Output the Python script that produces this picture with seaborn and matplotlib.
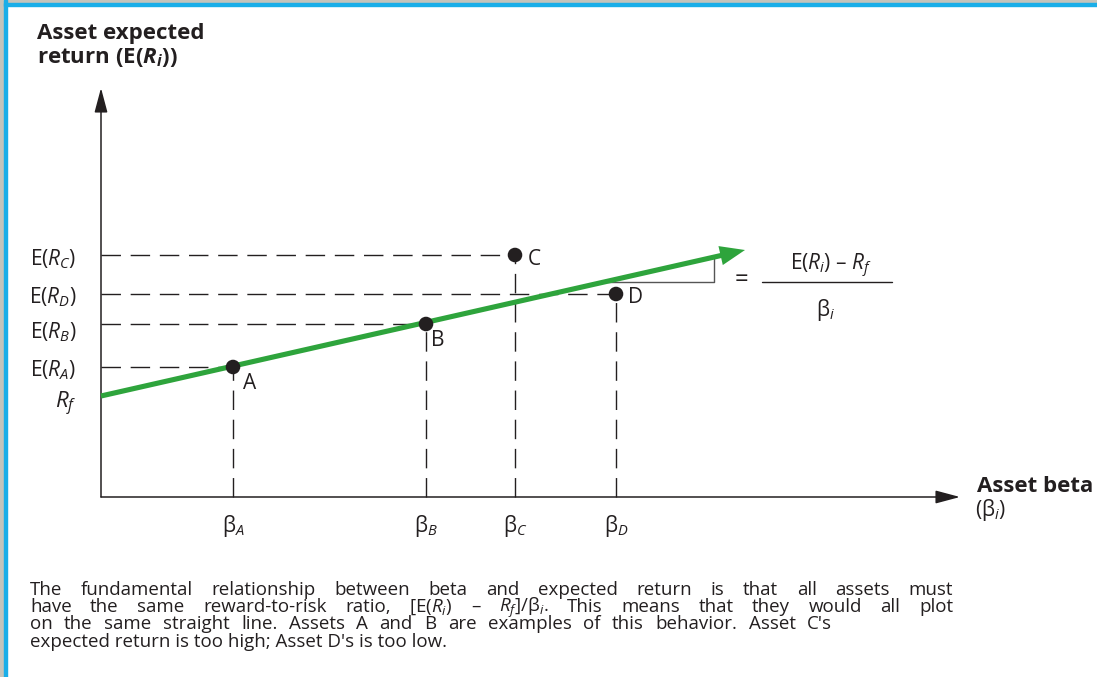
import matplotlib
matplotlib.use("Agg")
import matplotlib.pyplot as plt
import seaborn as sns
import numpy as np
import pandas as pd
from matplotlib.patches import Rectangle

# ---- data ----
assets = ["A", "B", "C", "D"]
betas = [0.66, 1.625, 2.07, 2.575]
exp_returns = [6.5, 8.65, 12.1, 10.15]
rf = 5.05
sml_beta = [0.0, 3.12]
sml_return = [5.05, 12.12]
sml_tip = (3.22, 12.35)
beta_labels = [r"$\mathrm{β}_{A}$", r"$\mathrm{β}_{B}$", r"$\mathrm{β}_{C}$", r"$\mathrm{β}_{D}$"]
ret_labels = ["E($R_A$)", "E($R_B$)", "E($R_C$)", "E($R_D$)"]
caption = [
    "The fundamental relationship between beta and expected return is that all assets must",
    "have the same reward-to-risk ratio, [E($R_i$) \u2013 $R_f$]/$\\mathrm{β}_i$. This means that they would all plot",
    "on the same straight line. Assets A and B are examples of this behavior. Asset C's",
    "expected return is too high; Asset D's is too low.",
]
caption_width_px = [923, 923, 802, None]

sns.set_theme(style="white")
FONT = "Open Sans"
plt.rcParams["font.family"] = [FONT, "DejaVu Sans"]
plt.rcParams["mathtext.fontset"] = "custom"
plt.rcParams["mathtext.rm"] = FONT
plt.rcParams["mathtext.it"] = FONT + ":italic"
plt.rcParams["mathtext.bf"] = FONT + ":bold"
plt.rcParams["mathtext.bfit"] = FONT + ":italic:bold"

INK = "#231f20"
GREEN = "#2ea43c"
W, H = 1097, 677

fig = plt.figure(figsize=(10.97, 6.77), dpi=100)
fig.patch.set_facecolor("white")
# frame
fig.patches.append(Rectangle((0, 0), 4/W, 1, transform=fig.transFigure, color="#c4c4bb", zorder=0))
fig.patches.append(Rectangle((4/W, 0), 3/W, 1, transform=fig.transFigure, color="#1aaee8", zorder=1))
fig.patches.append(Rectangle((0, 674/H), 1, 3/H, transform=fig.transFigure, color="#c4c4bb", zorder=0))
fig.patches.append(Rectangle((4/W, 671/H), 1, 3/H, transform=fig.transFigure, color="#1aaee8", zorder=1))

ax = fig.add_axes([0, 0, 1, 1])
ax.set_xlim(-0.505, 4.98)
ax.set_ylim(-9.0, 24.85)
ax.axis("off")

def bx(px):
    return (px - 101) / 200

def ry(py):
    return (497 - py) / 20

# axes arrows
arr = dict(arrowstyle="-|>,head_length=0.75,head_width=0.2", color=INK, lw=1.1,
           mutation_scale=20, shrinkA=0, shrinkB=0)
ax.annotate("", xy=(0, ry(88)), xytext=(0, 0), arrowprops=arr)
ax.annotate("", xy=(bx(960), 0), xytext=(0, 0), arrowprops=arr)

# dashed guides
dash = (0, (14, 7))
for b, r in zip(betas, exp_returns):
    ax.hlines(r, 0, b, colors=INK, linestyles=[dash], lw=1.0, zorder=2)
    ax.vlines(b, 0, r, colors=INK, linestyles=[dash], lw=1.0, zorder=2)

# SML
sns.lineplot(x=sml_beta, y=sml_return, color=GREEN, lw=3.7, ax=ax, zorder=4,
             solid_capstyle="butt")
slope = (sml_return[1] - sml_return[0]) / sml_beta[1]
ax.annotate("", xy=sml_tip, xytext=(sml_beta[-1] - 0.05, sml_return[-1] - 0.05 * slope),
            arrowprops=dict(arrowstyle="-|>,head_length=0.9,head_width=0.35", color=GREEN, lw=0,
                            mutation_scale=20, shrinkA=0, shrinkB=0), zorder=4)

# slope triangle
tri_y = ry(282)
tri_x0 = (tri_y - rf) / slope
tri_x1 = bx(714)
ax.plot([tri_x0, tri_x1, tri_x1], [tri_y, tri_y, rf + slope * tri_x1], color="#555555", lw=1.0, zorder=3)

# points
df = pd.DataFrame({"beta": betas, "ret": exp_returns, "asset": assets})
sns.scatterplot(data=df, x="beta", y="ret", color=INK, s=110, edgecolor="none", ax=ax, zorder=5)

FS = 15
pt_off = {"A": (7.2, -15.8), "B": (3.6, -15.8), "C": (9.4, -7.2), "D": (8.6, -6.5)}
for b, r, a in zip(betas, exp_returns, assets):
    ax.annotate(a, (b, r), xytext=pt_off[a], textcoords="offset points", ha="left",
                va="baseline", fontsize=FS, color=INK)

# return labels
ret_baseline_px = [376, 338, 265, 303]
for lab, py in zip(ret_labels, ret_baseline_px):
    ax.text(bx(76), ry(py), lab, ha="right", va="baseline", fontsize=FS, color=INK)
ax.text(bx(77), ry(408), "$R_f$", ha="right", va="baseline", fontsize=FS + 1, color=INK)

# beta labels
for b, lab in zip(betas, beta_labels):
    ax.text(b, ry(513), lab, ha="center", va="top", fontsize=FS, color=INK)

# formula
ax.text(bx(741), ry(280), "=", ha="center", va="center", fontsize=FS + 2, color=INK)
ax.plot([bx(762), bx(892)], [ry(282)] * 2, color=INK, lw=1.0)
ax.text(bx(831), ry(270), "E($R_i$) \u2013 $R_f$", ha="center", va="baseline", fontsize=FS, color=INK)
ax.text(bx(826), ry(297), r"$\mathrm{β}_i$", ha="center", va="top", fontsize=FS, color=INK)

# titles
TS = 16
fig.text(37 / W, 1 - 39 / H, "Asset expected", ha="left", va="baseline", fontsize=TS,
         fontweight="bold", color=INK)
fig.text(37 / W, 1 - 63 / H, r"return (E($\mathbfit{R_i}$))", ha="left", va="baseline", fontsize=TS,
         fontweight="bold", color=INK)
fig.text(977 / W, 1 - 492 / H, "Asset beta", ha="left", va="baseline", fontsize=TS,
         fontweight="bold", color=INK)
fig.text(975 / W, 1 - 516 / H, r"($\mathrm{β}_i$)", ha="left", va="baseline", fontsize=FS, color=INK)

# caption, justified word by word
CS = 13.5
fig.canvas.draw()
renderer = fig.canvas.get_renderer()
for i, (line, target) in enumerate(zip(caption, caption_width_px)):
    y = 1 - (595 + 17.2 * i) / H
    if target is None:
        fig.text(30 / W, y, line, ha="left", va="baseline", fontsize=CS, color=INK)
        continue
    words = line.split(" ")
    texts = [fig.text(0, y, w, ha="left", va="baseline", fontsize=CS, color=INK) for w in words]
    widths = [t.get_window_extent(renderer).width for t in texts]
    gap = (target - sum(widths)) / max(len(words) - 1, 1)
    x = 30.0
    for t, wd in zip(texts, widths):
        t.set_x(x / W)
        x += wd + gap

fig.savefig("out.png", dpi=100)
